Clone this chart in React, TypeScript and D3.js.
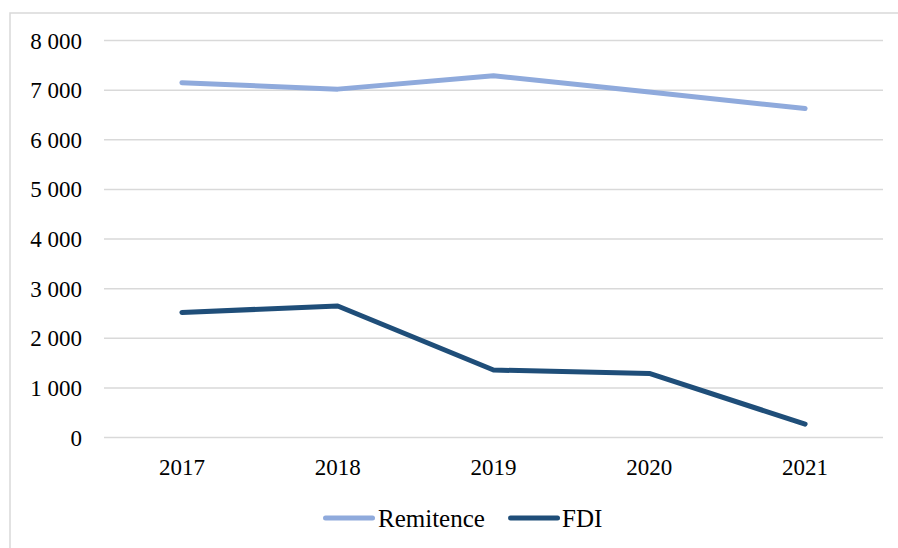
import React from 'react';
import * as d3 from 'd3';

const years = ['2017', '2018', '2019', '2020', '2021'];
const remitence = [7150, 7020, 7290, 6960, 6630];
const fdi = [2520, 2650, 1360, 1290, 270];
const yTicks = [0, 1000, 2000, 3000, 4000, 5000, 6000, 7000, 8000];

const series = [
  { name: 'Remitence', values: remitence, color: '#8faadc' },
  { name: 'FDI', values: fdi, color: '#1f4e79' },
];

const W = 898;
const H = 548;
const FONT = "'Liberation Serif', 'Times New Roman', Times, serif";

// space as thousands separator, like "8 000"
const fmt = d3.formatLocale({ decimal: ',', thousands: ' ', grouping: [3], currency: ['', ''] }).format(',d');

const txt = (size: number) => ({ fontFamily: FONT, fontSize: size, fill: '#000' });

export default function App() {
  const x = d3.scalePoint<string>().domain(years).range([104, 883]).padding(0.5);
  const y = d3.scaleLinear().domain([0, 8000]).range([437.5, 40.5]);

  const line = d3.line<number>()
    .x((_, i) => x(years[i]) as number)
    .y(d => y(d));

  return (
    <svg width={W} height={H} style={{ position: 'absolute', left: 0, top: 0, background: '#fff' }}>
      {/* chart frame, cut off at right and bottom */}
      <rect x={10} y={13} width={W + 20} height={H + 20} fill="#fff" stroke="#d9d9d9" strokeWidth={1.5} />

      {/* gridlines + y labels */}
      {yTicks.map(t => (
        <g key={t}>
          <line x1={104} x2={883} y1={y(t)} y2={y(t)} stroke="#d9d9d9" strokeWidth={1.5} />
          <text x={82} y={y(t)} dy="0.35em" textAnchor="end" style={txt(23)}>{fmt(t)}</text>
        </g>
      ))}

      {/* x labels */}
      {years.map(yr => (
        <text key={yr} x={x(yr)} y={475} textAnchor="middle" style={txt(23)}>{yr}</text>
      ))}

      {/* series lines */}
      {series.map(s => (
        <path key={s.name} d={line(s.values) || ''} fill="none" stroke={s.color} strokeWidth={5}
          strokeLinecap="round" strokeLinejoin="round" />
      ))}

      {/* legend */}
      <g>
        <line x1={325.5} x2={372.5} y1={518} y2={518} stroke={series[0].color} strokeWidth={5} strokeLinecap="round" />
        <text x={378} y={518} dy="0.35em" style={txt(25)}>{series[0].name}</text>
        <line x1={510.5} x2={557.5} y1={518} y2={518} stroke={series[1].color} strokeWidth={5} strokeLinecap="round" />
        <text x={562} y={518} dy="0.35em" style={txt(25)}>{series[1].name}</text>
      </g>
    </svg>
  );
}
